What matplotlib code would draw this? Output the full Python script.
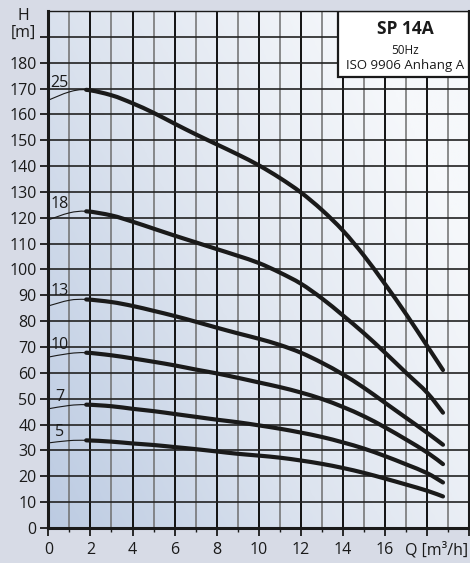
import numpy as np
import matplotlib
matplotlib.use("Agg")
import matplotlib.pyplot as plt
from matplotlib.colors import LinearSegmentedColormap
from matplotlib.patches import Rectangle, PathPatch
from matplotlib.path import Path

plt.rcParams['font.family'] = ['Open Sans', 'DejaVu Sans']

# Flow rate Q [m³/h] at which the head values are given
Q = [0, 1, 1.8, 3, 4, 5, 6, 7, 8, 9, 10, 11, 12, 13, 14, 15, 16, 17, 18, 18.75]
# index in Q where the recommended (thick) operating range begins
RANGE_START = 2

stages = ["25", "18", "13", "10", "7", "5"]
H25 = [165.5, 168.7, 169.5, 167.4, 164.3, 160.6, 156.4, 152.3, 148.4, 144.5,
       140.3, 135.4, 129.8, 123.0, 115.0, 105.3, 94.3, 82.7, 70.4, 61.1]
H18 = [119.2, 121.9, 122.5, 120.9, 118.5, 115.8, 113.1, 110.5, 107.9, 105.3,
       102.5, 98.8, 94.5, 88.8, 82.2, 75.3, 67.8, 60.0, 52.3, 44.6]
H13 = [85.9, 88.1, 88.4, 87.4, 85.9, 84.0, 82.0, 79.8, 77.5, 75.3,
       73.2, 70.8, 67.8, 63.9, 59.4, 54.2, 48.4, 42.6, 36.8, 32.2]
H10 = [66.1, 67.5, 67.8, 66.8, 65.6, 64.3, 62.9, 61.3, 59.8, 58.1,
       56.3, 54.5, 52.4, 49.9, 46.8, 43.2, 38.9, 34.2, 29.2, 24.7]
H7 = [46.1, 47.4, 47.7, 47.1, 46.1, 45.2, 44.1, 43.0, 41.9, 40.9,
      39.7, 38.4, 36.9, 35.2, 33.1, 30.7, 27.8, 24.6, 21.2, 17.6]
H5 = [32.9, 33.8, 33.9, 33.4, 32.7, 32.1, 31.3, 30.5, 29.6, 28.7,
      28.0, 27.2, 26.1, 24.8, 23.2, 21.3, 19.1, 16.8, 14.4, 12.2]
heads = [H25, H18, H13, H10, H7, H5]

x_ticks = list(range(0, 21, 2))
x_labels = ["0", "2", "4", "6", "8", "10", "12", "14", "16", "", ""]
y_ticks = list(range(0, 200, 10))
y_labels = [str(v) for v in range(0, 190, 10)] + [""]

FIG_BG = "#d7dbe6"
INK = "#1a1a1a"


def smooth_path(xs, ys, i0, i1):
    """Catmull-Rom style cubic Bezier path through points i0..i1."""
    pts = np.column_stack([xs, ys]).astype(float)
    n = len(pts)
    verts = [pts[i0]]
    codes = [Path.MOVETO]
    for i in range(i0, i1):
        p0 = pts[max(i - 1, 0)]
        p1 = pts[i]
        p2 = pts[i + 1]
        p3 = pts[min(i + 2, n - 1)]
        c1 = p1 + (p2 - p0) / 6.0
        c2 = p2 - (p3 - p1) / 6.0
        verts += [c1, c2, p2]
        codes += [Path.CURVE4] * 3
    return Path(verts, codes)


fig = plt.figure(figsize=(4.70, 5.63), dpi=100, facecolor=FIG_BG)
ax = fig.add_axes([0.1028, 0.0622, 0.8957, 0.9183])
ax.set_xlim(0, 20)
ax.set_ylim(0, 200)

# soft diagonal blue-to-white background
u, v = np.meshgrid(np.linspace(0, 1, 200), np.linspace(0, 1, 200))
t = np.clip(0.75 * u + 0.45 * v, 0, 1)
cmap = LinearSegmentedColormap.from_list("bg", ["#bccbe2", "#dde4ef", "#f6f8fb"])
ax.imshow(t, cmap=cmap, extent=[0, 1, 0, 1], transform=ax.transAxes,
          origin="lower", aspect="auto", zorder=0, interpolation="bilinear")

# grid
for xv in range(1, 20):
    major = xv % 2 == 0
    ax.axvline(xv, color="#111111" if major else "#6e6e6e",
               lw=1.4 if major else 1.1, zorder=1)
for yv in range(10, 200, 10):
    ax.axhline(yv, color="#222222", lw=1.2, zorder=1)

# pump curves
last = len(Q) - 1
for lab, H in zip(stages, heads):
    ax.add_patch(PathPatch(smooth_path(Q, H, 0, RANGE_START), fill=False,
                           edgecolor=INK, lw=0.8, zorder=3))
    ax.add_patch(PathPatch(smooth_path(Q, H, RANGE_START, last), fill=False,
                           edgecolor=INK, lw=3.0, capstyle="round",
                           joinstyle="round", zorder=3))
    ax.text(0.53, H[1] + 0.3, lab, ha="center", va="bottom", fontsize=11.5,
            color=INK, zorder=4)

# axes styling
for side in ["left", "bottom", "right"]:
    ax.spines[side].set_linewidth(2.2)
    ax.spines[side].set_color(INK)
ax.spines["top"].set_linewidth(1.0)
ax.spines["top"].set_color(INK)
for s in ax.spines.values():
    s.set_zorder(6)

ax.set_xticks(x_ticks)
ax.set_xticklabels(x_labels)
ax.set_xticks(range(1, 20, 2), minor=True)
ax.set_yticks(y_ticks)
ax.set_yticklabels(y_labels)
ax.tick_params(axis="both", which="major", direction="out", length=6,
               width=1.3, color=INK, labelsize=11.5, labelcolor=INK)
ax.tick_params(axis="x", which="major", pad=4)
ax.tick_params(axis="y", which="major", pad=2.5)
ax.tick_params(axis="x", which="minor", direction="out", length=3,
               width=1.0, color=INK)

# axis titles
fig.text(23 / 470, 1 - 16 / 563, "H", ha="center", va="center",
         fontsize=11.5, color=INK)
fig.text(23 / 470, 1 - 33 / 563, "[m]", ha="center", va="center",
         fontsize=11.5, color=INK)
fig.text(468 / 470, 1 - 550 / 563, "Q [m³/h]", ha="right", va="center",
         fontsize=11.5, color=INK)

# title box
ax.add_patch(Rectangle((0.689, 0.873), 0.311, 0.127, transform=ax.transAxes,
                       facecolor="white", edgecolor=INK, lw=1.6, zorder=5))
fig.text(405 / 470, 1 - 29 / 563, "SP 14A", ha="center", va="center",
         fontsize=12.5, fontweight="bold", color=INK, zorder=7)
fig.text(405 / 470, 1 - 50 / 563, "50Hz", ha="center", va="center",
         fontsize=8.5, color=INK, zorder=7)
fig.text(405 / 470, 1 - 65 / 563, "ISO 9906 Anhang A", ha="center", va="center",
         fontsize=9.5, color=INK, zorder=7)

fig.savefig("out.png", dpi=100, facecolor=FIG_BG)
